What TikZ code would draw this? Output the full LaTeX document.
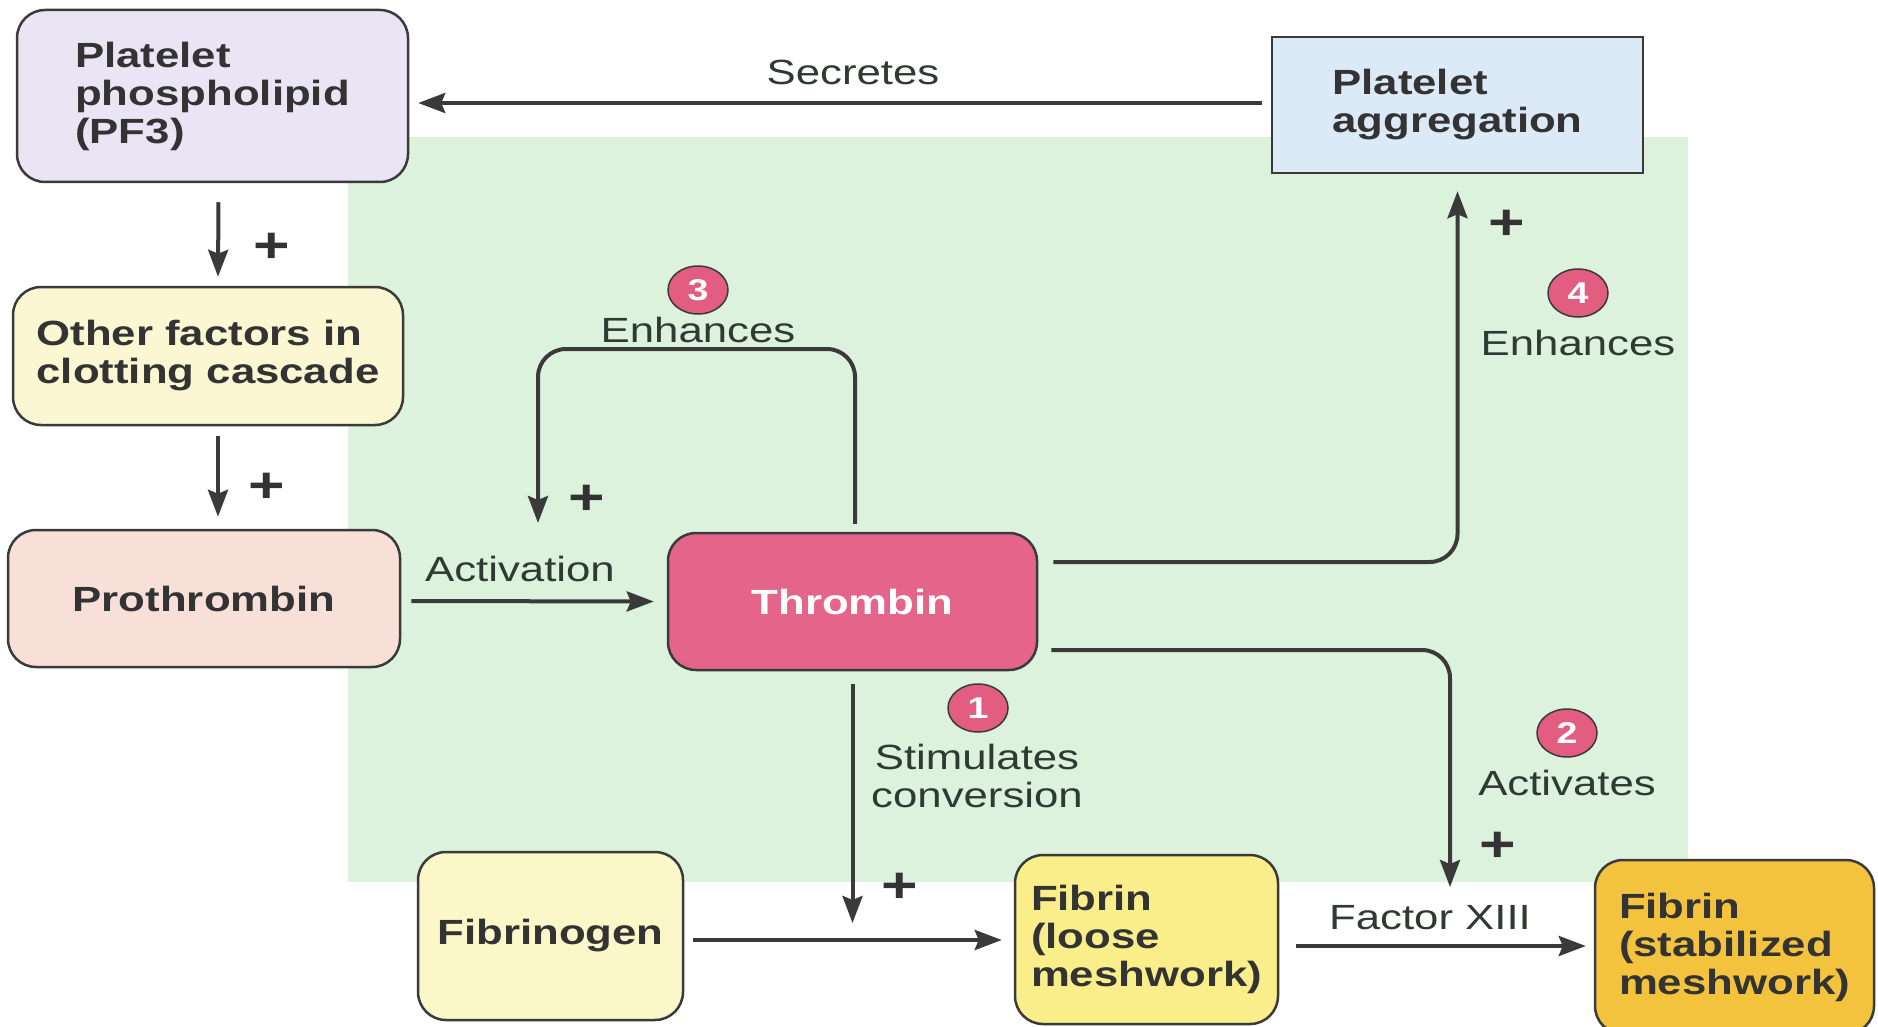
\documentclass[tikz,border=0pt]{standalone}
\usepackage{fontspec}
\setmainfont[FakeStretch=1.25]{Liberation Sans}
\usetikzlibrary{arrows.meta,shapes.geometric}
\definecolor{linec}{HTML}{3A3A3A}
\definecolor{txt}{HTML}{333333}
\definecolor{lbltxt}{HTML}{2F3A33}
\definecolor{greenbg}{HTML}{DDF2DD}
\definecolor{pfc}{HTML}{E9E5F5}
\definecolor{othc}{HTML}{FAF7D2}
\definecolor{proc}{HTML}{F8E0D8}
\definecolor{aggc}{HTML}{DCEAF8}
\definecolor{thrc}{HTML}{E5658A}
\definecolor{fbgc}{HTML}{FBF7C8}
\definecolor{fblc}{HTML}{F9EE8A}
\definecolor{fbsc}{HTML}{F4C33E}
\definecolor{badgec}{HTML}{E35D80}
\tikzset{
  box/.style={draw=linec, line width=2.5pt, rounded corners=28pt, align=left,
    font=\bfseries\fontsize{35}{38}\selectfont, text=txt, inner sep=0pt},
  lbl/.style={font=\fontsize{35}{38}\selectfont, text=lbltxt, inner sep=0pt, align=center},
  arr/.style={draw=linec, line width=4pt, rounded corners=28pt,
    -{Stealth[length=27pt,width=20pt,inset=4pt]}},
  badge/.style={ellipse, draw=linec, line width=1.5pt, fill=badgec, minimum width=60pt,
    minimum height=48pt, inner sep=0pt, text=white, font=\bfseries\fontsize{30}{30}\selectfont},
  plus/.style={font=\bfseries\fontsize{50}{50}\selectfont, text=txt, inner sep=0pt}
}
\begin{document}
\begin{tikzpicture}[x=1pt,y=-1pt]
\useasboundingbox (0,0) rectangle (1878,1027);
\fill[white] (0,0) rectangle (1878,1027);
\fill[greenbg] (348,137) rectangle (1688,882);

% boxes
\node[box, fill=pfc, minimum width=391pt, minimum height=172pt] (pf3) at (212.5,96) {Platelet\\phospholipid\\(PF3)};
\node[box, fill=othc, minimum width=390pt, minimum height=138pt] (oth) at (208,356) {Other factors in\\clotting cascade};
\node[box, fill=proc, minimum width=392pt, minimum height=137pt] (pro) at (204,598.5) {Prothrombin};
\node[box, fill=aggc, rounded corners=0pt, minimum width=371pt, minimum height=136pt] (agg) at (1457.5,105) {Platelet\\aggregation};
\node[box, fill=thrc, text=white, minimum width=369pt, minimum height=137pt] (thr) at (852.5,601.5) {Thrombin};
\node[box, fill=fbgc, minimum width=265pt, minimum height=168pt] (fbg) at (550.5,936) {Fibrinogen};
\node[box, fill=fblc, minimum width=263pt, minimum height=169pt] (fbl) at (1146.5,939.5) {Fibrin\\(loose\\meshwork)};
\node[box, fill=fbsc, minimum width=279pt, minimum height=174pt] (fbs) at (1734.5,947) {Fibrin\\(stabilized\\meshwork)};

% coordinates for free ends
\coordinate (l3corner) at (538,349);
\coordinate (l3end) at (538,523);
\coordinate (a2end) at (1450,887);
\coordinate (a1end) at (852.5,923);

% connectors
\draw[arr] ([shift={(-9,-2)}]agg.west) -- ([shift={(9,7)}]pf3.east);
\node[lbl] (secretes) at (853,72) {Secretes};

\draw[arr] ([shift={(6,19)}]pf3.south) -- ([shift={(10,-9)}]oth.north);
\node[plus] (p0) at (272,248) {+};
\draw[arr] ([shift={(10,10)}]oth.south) -- ([shift={(14,-12)}]pro.north);
\node[plus] (p00) at (267,488) {+};

\draw[arr] ([shift={(10,2.5)}]pro.east) -- ([shift={(-13,0)}]thr.west);
\node[lbl] (activation) at (520,569) {Activation};

\draw[arr] ([shift={(2.5,-8)}]thr.north) |- (l3corner) -- (l3end);
\node[plus] (p3) at (587,500) {+};
\node[badge] (b3) at (698,290) {3};
\node[lbl] (enh3) at (698,330) {Enhances};

\draw[arr] ([shift={(15,-39.5)}]thr.east) -| ([shift={(0,17)}]agg.south);
\node[plus] (p4) at (1507,225) {+};
\node[badge] (b4) at (1578,293) {4};
\node[lbl] (enh4) at (1578,343) {Enhances};

\draw[arr] ([shift={(13,48.5)}]thr.east) -| (a2end);
\node[plus] (p2) at (1498,847) {+};
\node[badge] (b2) at (1567,733) {2};
\node[lbl] (act2) at (1567,783) {Activates};

\draw[arr] ([shift={(0,13)}]thr.south) -- (a1end);
\node[plus] (p1) at (900,888) {+};
\node[badge] (b1) at (978,708) {1};
\node[lbl] (stim) at (977,776) {Stimulates\\conversion};

\draw[arr] ([shift={(9,4)}]fbg.east) -- ([shift={(-12,0.5)}]fbl.west);
\draw[arr] ([shift={(17,6.5)}]fbl.east) -- ([shift={(-8,-1)}]fbs.west);
\node[lbl] (f13) at (1430,918) {Factor XIII};
\end{tikzpicture}
\end{document}
